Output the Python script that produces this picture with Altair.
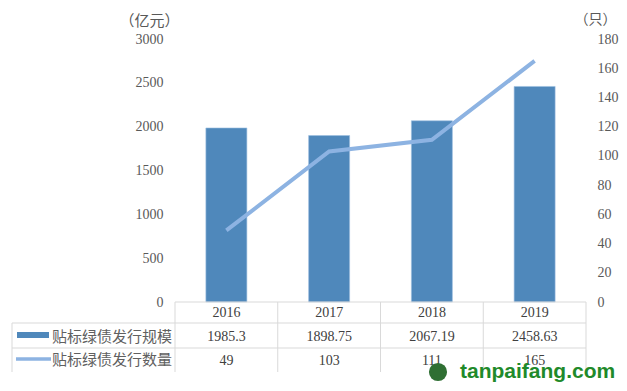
import altair as alt
import pandas as pd

years = ["2016", "2017", "2018", "2019"]
scale_values = [1985.3, 1898.75, 2067.19, 2458.63]
scale_labels = ["1985.3", "1898.75", "2067.19", "2458.63"]
count_values = [49, 103, 111, 165]
series_names = ["贴标绿债发行规模", "贴标绿债发行数量"]
left_ticks = [0, 500, 1000, 1500, 2000, 2500, 3000]
right_ticks = [0, 20, 40, 60, 80, 100, 120, 140, 160, 180]
left_unit = "（亿元）"
right_unit = "（只）"
watermark = "tanpaifang.com"

BAR = "#4f88bb"
LINE = "#8db3e2"
AXIS_TXT = "#595959"
TABLE_TXT = "#404040"
GRID = "#d9d9d9"
SERIF = "Liberation Serif"
CJK = "Noto Sans CJK SC"

df = pd.DataFrame({
    "year": years,
    "scale": scale_values,
    "scale_label": scale_labels,
    "count": count_values,
})

W, H = 411, 263
x_enc = alt.X("year:N", sort=years, axis=None,
              scale=alt.Scale(paddingInner=0, paddingOuter=0))

base = alt.Chart(df)

bars = base.mark_bar(size=41, color=BAR, stroke="#9dc0e0", strokeWidth=0.6).encode(
    x=x_enc,
    y=alt.Y("scale:Q", scale=alt.Scale(domain=[0, 3000], nice=False),
            axis=alt.Axis(values=left_ticks, format="d", grid=False, domain=False,
                          ticks=False, labelPadding=12, labelFont=SERIF, labelFontSize=14,
                          labelColor=AXIS_TXT, title=left_unit, titleAngle=0,
                          titleX=-26, titleY=-19, titleAlign="center",
                          titleBaseline="middle", titleFont=CJK, titleFontSize=15,
                          titleFontWeight="normal", titleColor=AXIS_TXT)),
)

line = base.mark_line(color=LINE, strokeWidth=4).encode(
    x=x_enc,
    y=alt.Y("count:Q", scale=alt.Scale(domain=[0, 180], nice=False),
            axis=alt.Axis(orient="right", values=right_ticks, format="d", grid=False,
                          domain=False, ticks=False, labelPadding=11, labelFont=SERIF,
                          labelFontSize=14, labelColor=AXIS_TXT, title=right_unit,
                          titleAngle=0, titleX=9, titleY=-20, titleAlign="center",
                          titleBaseline="middle", titleFont=CJK, titleFontSize=14,
                          titleFontWeight="normal", titleColor=AXIS_TXT)),
)

one = alt.Data(values=[{"k": 1}])

# table grid
vlines = base.mark_rule(color=GRID, strokeWidth=1).encode(
    x=alt.X("year:N", sort=years, bandPosition=0, axis=None),
    y=alt.value(H), y2=alt.value(H + 70),
)
vright = alt.Chart(one).mark_rule(color=GRID).encode(
    x=alt.value(W), y=alt.value(H), y2=alt.value(H + 70))
vleft = alt.Chart(one).mark_rule(color=GRID).encode(
    x=alt.value(-163), y=alt.value(H + 21), y2=alt.value(H + 70))
h0 = alt.Chart(one).mark_rule(color=GRID).encode(
    x=alt.value(0), x2=alt.value(W), y=alt.value(H))
h1 = alt.Chart(one).mark_rule(color=GRID).encode(
    x=alt.value(-163), x2=alt.value(W), y=alt.value(H + 21))
h2 = alt.Chart(one).mark_rule(color=GRID).encode(
    x=alt.value(-163), x2=alt.value(W), y=alt.value(H + 46))

txt = dict(font=SERIF, fontSize=14, color=TABLE_TXT, align="center", baseline="middle")
t_year = base.mark_text(**txt).encode(x=x_enc, y=alt.value(H + 11), text="year:N")
t_scale = base.mark_text(**txt).encode(x=x_enc, y=alt.value(H + 35), text="scale_label:N")
t_count = base.mark_text(**txt).encode(x=x_enc, y=alt.value(H + 59), text="count:Q")

# legend column
sw_bar = alt.Chart(one).mark_rect(color=BAR).encode(
    x=alt.value(-158), x2=alt.value(-126), y=alt.value(H + 30), y2=alt.value(H + 36))
sw_line = alt.Chart(one).mark_rule(color=LINE, strokeWidth=3.5).encode(
    x=alt.value(-159), x2=alt.value(-124), y=alt.value(H + 57))
leg_style = dict(font=CJK, fontSize=15, color="#606060", align="left", baseline="middle")
leg1 = alt.Chart(one).mark_text(**leg_style).encode(
    x=alt.value(-123), y=alt.value(H + 35), text=alt.value(series_names[0]))
leg2 = alt.Chart(one).mark_text(**leg_style).encode(
    x=alt.value(-123), y=alt.value(H + 58), text=alt.value(series_names[1]))

# watermark
logo = alt.Chart(one).mark_point(shape="circle", filled=True, size=330, color="#2f6f33",
                                 opacity=1).encode(x=alt.value(263), y=alt.value(H + 70))
wm = alt.Chart(one).mark_text(font="Liberation Sans", fontSize=21, fontWeight="bold",
                              color="#1f8a2a", align="left", baseline="middle").encode(
    x=alt.value(285), y=alt.value(H + 70), text=alt.value(watermark))

chart = alt.layer(
    bars, line, vlines, vright, vleft, h0, h1, h2,
    t_year, t_scale, t_count, sw_bar, sw_line, leg1, leg2, logo, wm,
).resolve_scale(y="independent").properties(
    width=W, height=H,
    padding={"left": 167, "top": 31, "right": 33, "bottom": 81},
    autosize=alt.AutoSizeParams(type="none"),
).configure_view(stroke=None)

chart.save("out.html", embed_options={"renderer": "svg", "actions": False})
